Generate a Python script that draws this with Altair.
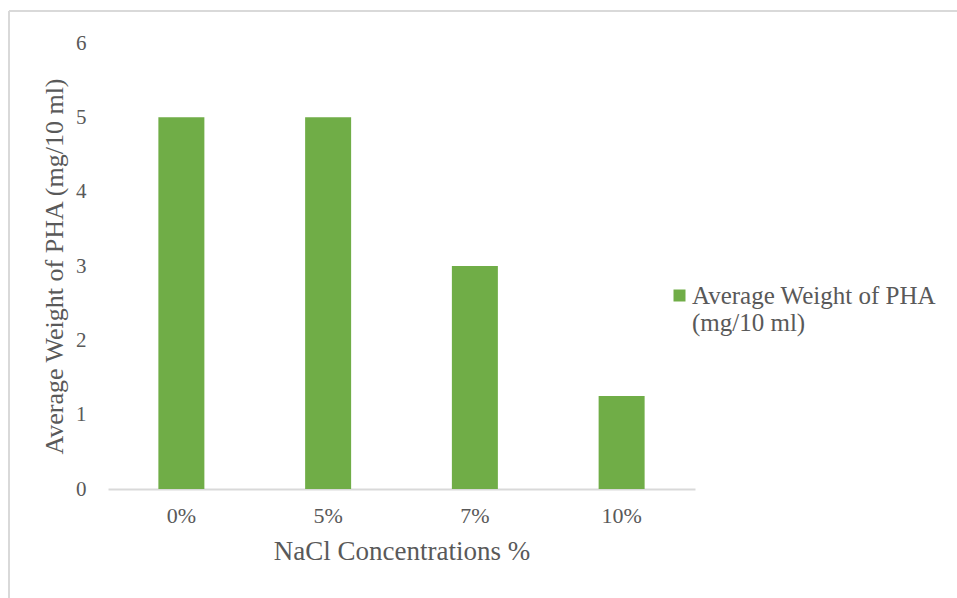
import altair as alt
import pandas as pd

categories = ["0%", "5%", "7%", "10%"]
values = [5, 5, 3, 1.25]
series_name = "Average Weight of PHA (mg/10 ml)"
legend_lines = ["Average Weight of PHA", "(mg/10 ml)"]

df = pd.DataFrame({"conc": categories, "weight": values, "series": [series_name] * 4})

FONT = "Liberation Serif, Times New Roman, serif"
TXT = "#595959"

bars = alt.Chart(df).mark_bar(size=46).encode(
    x=alt.X("conc:N", sort=categories, title="NaCl Concentrations %",
            scale=alt.Scale(paddingInner=0.687, paddingOuter=0.3435),
            axis=alt.Axis(labelAngle=0, tickSize=0, labelPadding=16, titlePadding=12,
                          domainColor="#D9D9D9", domainWidth=2,
                          labelFont=FONT, titleFont=FONT,
                          labelFontSize=22, titleFontSize=27)),
    y=alt.Y("weight:Q", title="Average Weight of PHA (mg/10 ml)",
            scale=alt.Scale(domain=[0, 6]),
            axis=alt.Axis(values=[0, 1, 2, 3, 4, 5, 6], tickSize=0, domain=False, grid=False,
                          labelPadding=22, titlePadding=8,
                          labelFont=FONT, titleFont=FONT,
                          labelFontSize=21, titleFontSize=26)),
    color=alt.Color("series:N", scale=alt.Scale(range=["#70AD47"]),
                    legend=alt.Legend(title=None, orient="none", legendX=559, legendY=240,
                                      symbolType="square", symbolSize=144, labelOffset=0,
                                      labelExpr="['" + legend_lines[0] + "', '" + legend_lines[1] + "']",
                                      labelFont=FONT, labelFontSize=25, labelColor=TXT,
                                      labelLimit=400)),
)

border_top = alt.Chart(df).mark_rule(color="#D9D9D9", strokeWidth=2).encode(
    x=alt.value(-99), x2=alt.value(870), y=alt.value(-32))
border_left = alt.Chart(df).mark_rule(color="#D9D9D9", strokeWidth=2).encode(
    x=alt.value(-99), y=alt.value(-32), y2=alt.value(570))

chart = alt.layer(bars, border_top, border_left).properties(
    width=587, height=446,
    autosize=alt.AutoSizeParams(type="none"),
    padding={"left": 108, "top": 43, "right": 262, "bottom": 109},
).configure_view(stroke=None).configure_axis(
    labelColor=TXT, titleColor=TXT,
    titleFontWeight="normal", grid=False,
)

chart.save("out.html", embed_options={"renderer": "svg", "actions": False})
